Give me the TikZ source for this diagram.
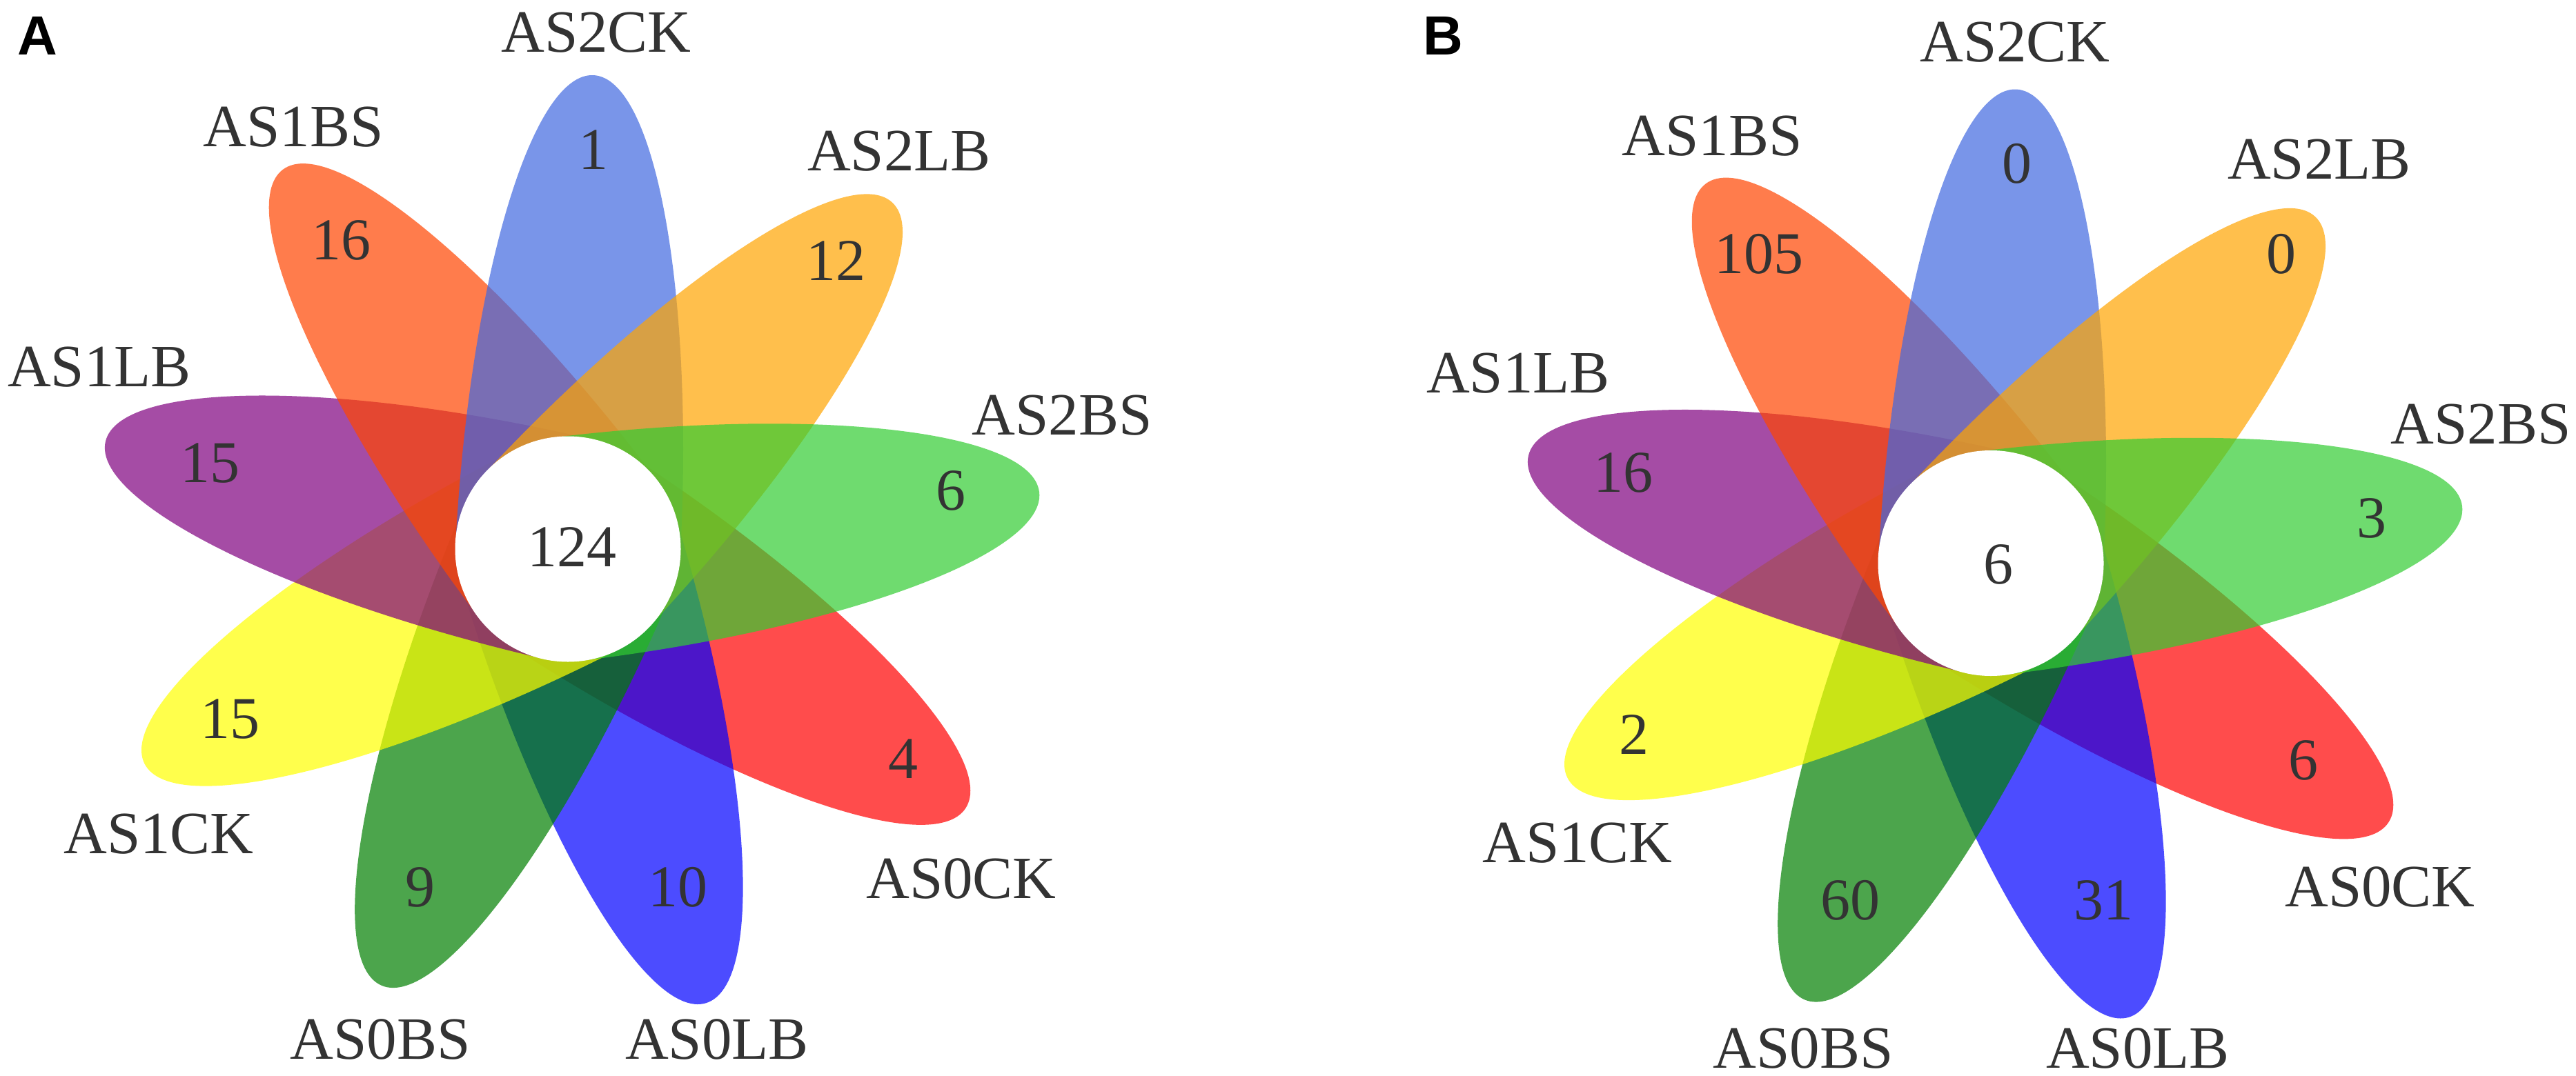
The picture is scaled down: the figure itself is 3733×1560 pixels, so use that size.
\documentclass[tikz,border=0pt]{standalone}
\usepackage{fontspec}
\setmainfont{Liberation Serif}
\newfontfamily\labelserif{Liberation Serif}
\newfontfamily\panelfont{Liberation Sans}
\definecolor{txt}{RGB}{51,51,51}
\definecolor{cRoyal}{RGB}{65,105,225}
\definecolor{cOrange}{RGB}{255,165,0}
\definecolor{cLime}{RGB}{50,205,50}
\definecolor{cRed}{RGB}{255,0,0}
\definecolor{cBlue}{RGB}{0,0,255}
\definecolor{cGreen}{RGB}{0,128,0}
\definecolor{cYellow}{RGB}{255,255,0}
\definecolor{cPurple}{RGB}{128,0,128}
\definecolor{cOrRed}{RGB}{255,69,0}
\tikzset{
  petalfill/.style={fill=#1, fill opacity=0.7},
  setlabel/.style={inner sep=0pt, text=txt, font=\labelserif\fontsize{87}{87}\selectfont},
  countlabel/.style={inner sep=0pt, text=txt, font=\labelserif\fontsize{86}{86}\selectfont},
  panellabel/.style={inner sep=0pt, text=black, font=\panelfont\bfseries\fontsize{80}{80}\selectfont}
}
\newcommand\flowerpetal[2]{\fill[petalfill=#1, rotate=#2] (0,-163) arc[start angle=-90, end angle=90, x radius=688pt, y radius=163pt] -- cycle;}
\newcommand\flowerset{%
  \flowerpetal{cRed}{-33.1}
  \flowerpetal{cBlue}{-73.1}
  \flowerpetal{cGreen}{-113.1}
  \flowerpetal{cYellow}{-153.1}
  \flowerpetal{cPurple}{166.9}
  \flowerpetal{cOrRed}{126.9}
  \flowerpetal{cRoyal}{86.9}
  \flowerpetal{cOrange}{46.9}
  \flowerpetal{cLime}{6.9}
  \fill[white] (0,0) circle[radius=163.5pt];
}
\begin{document}
\begin{tikzpicture}[x=1pt,y=1pt]
\useasboundingbox (0,0) rectangle (3733,-1560);
\fill[white] (0,0) rectangle (3733,-1560);

% ---------- Panel A ----------
\begin{scope}[shift={(823,-796)}]
  \flowerset
\end{scope}
\node[panellabel] (pA) at (54,-52) {A};
\node[setlabel] (aAS2CK) at (864,-47) {AS2CK};
\node[setlabel] (aAS1BS) at (425,-184) {AS1BS};
\node[setlabel] (aAS2LB) at (1303,-219) {AS2LB};
\node[setlabel] (aAS1LB) at (144,-532) {AS1LB};
\node[setlabel] (aAS2BS) at (1539,-602) {AS2BS};
\node[setlabel] (aAS1CK) at (230,-1209) {AS1CK};
\node[setlabel] (aAS0CK) at (1393,-1274) {AS0CK};
\node[setlabel] (aAS0BS) at (551,-1507) {AS0BS};
\node[setlabel] (aAS0LB) at (1039,-1507) {AS0LB};
\node[countlabel] (an1) at (860,-217) {1};
\node[countlabel] (an2) at (1211,-378) {12};
\node[countlabel] (an3) at (1378,-711) {6};
\node[countlabel] (an4) at (1309,-1100) {4};
\node[countlabel] (an5) at (982,-1286) {10};
\node[countlabel] (an6) at (609,-1286) {9};
\node[countlabel] (an7) at (333,-1043) {15};
\node[countlabel] (an8) at (304,-672) {15};
\node[countlabel] (an9) at (494,-348) {16};
\node[countlabel] (acore) at (829,-793) {124};

% ---------- Panel B ----------
\begin{scope}[shift={(2885,-816.5)}]
  \flowerset
\end{scope}
\node[panellabel] (pB) at (2091,-52) {B};
\node[setlabel] (bAS2CK) at (2920,-61) {AS2CK};
\node[setlabel] (bAS1BS) at (2481,-197) {AS1BS};
\node[setlabel] (bAS2LB) at (3361,-231) {AS2LB};
\node[setlabel] (bAS1LB) at (2200,-541) {AS1LB};
\node[setlabel] (bAS2BS) at (3595,-615) {AS2BS};
\node[setlabel] (bAS1CK) at (2286,-1222) {AS1CK};
\node[setlabel] (bAS0CK) at (3449,-1286) {AS0CK};
\node[setlabel] (bAS0BS) at (2613,-1520) {AS0BS};
\node[setlabel] (bAS0LB) at (3098,-1520) {AS0LB};
\node[countlabel] (bn1) at (2923,-237) {0};
\node[countlabel] (bn2) at (3306,-368) {0};
\node[countlabel] (bn3) at (3437,-751) {3};
\node[countlabel] (bn4) at (3338,-1102) {6};
\node[countlabel] (bn5) at (3048,-1305) {31};
\node[countlabel] (bn6) at (2681,-1305) {60};
\node[countlabel] (bn7) at (2368,-1065) {2};
\node[countlabel] (bn8) at (2352,-685) {16};
\node[countlabel] (bn9) at (2549,-368) {105};
\node[countlabel] (bcore) at (2896,-818) {6};
\end{tikzpicture}
\end{document}
